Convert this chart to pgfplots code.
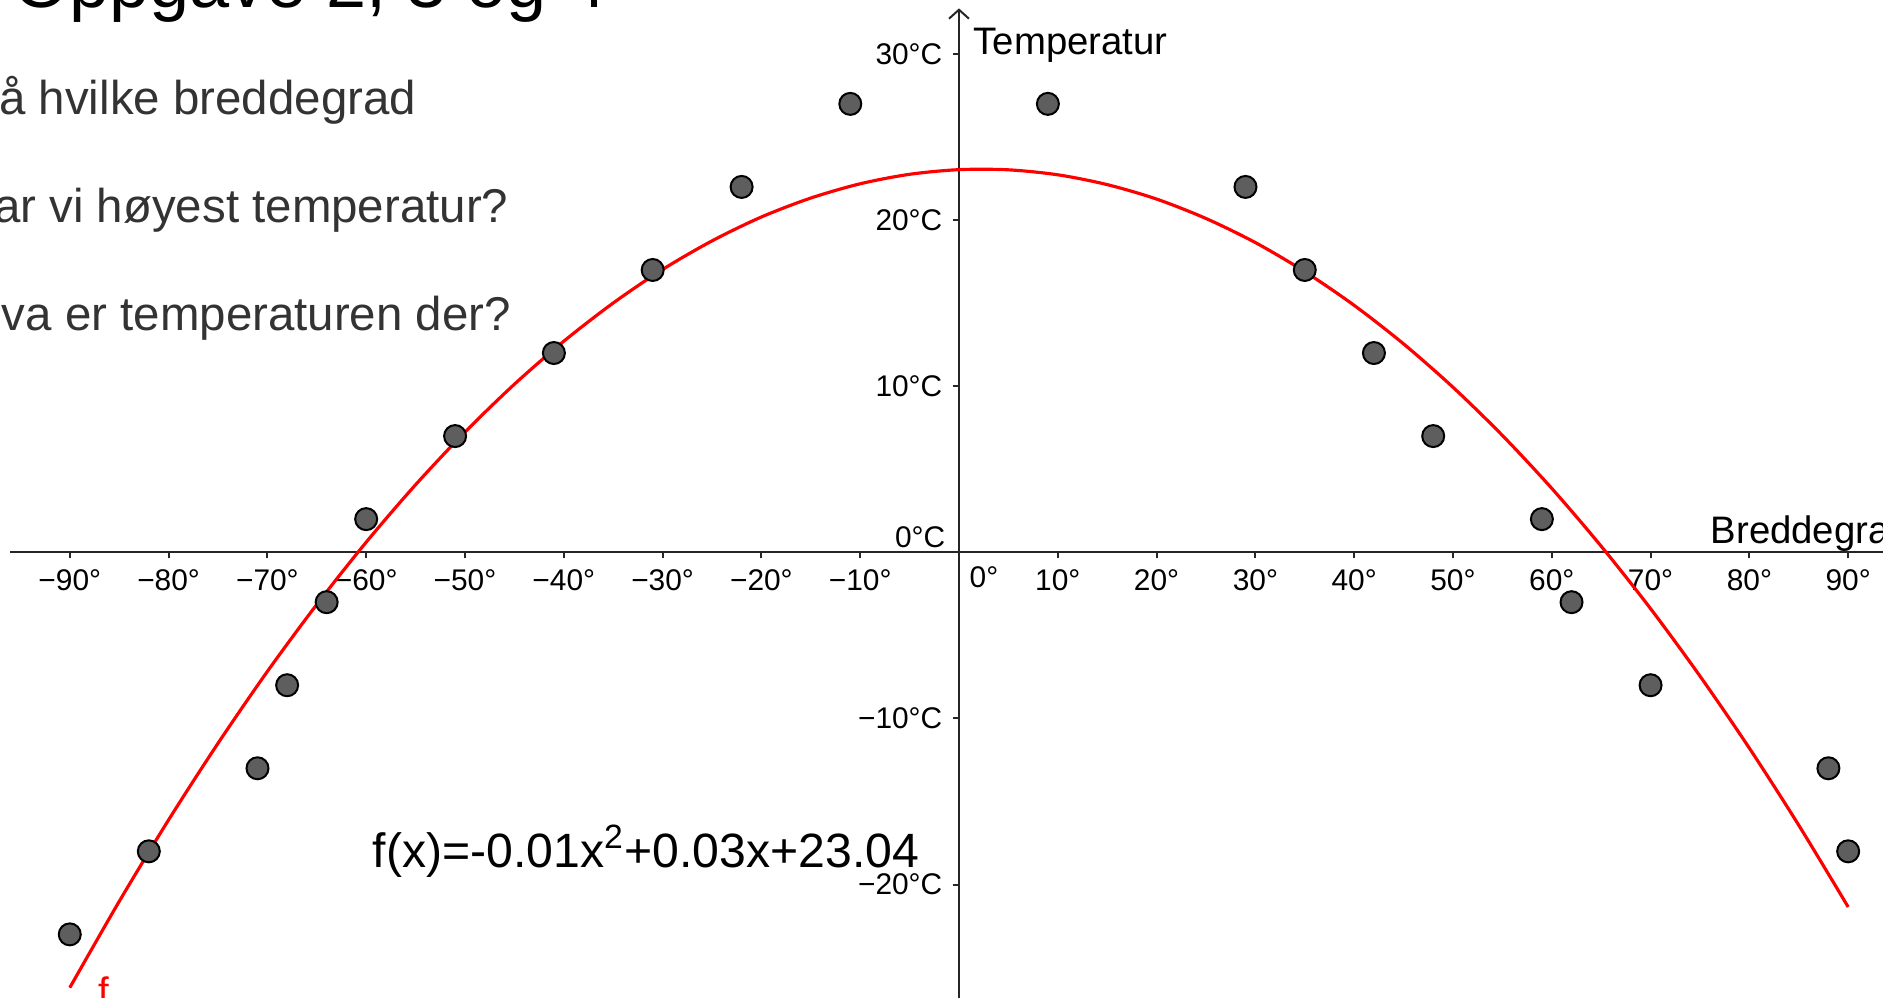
\documentclass[border=0pt]{standalone}
\usepackage{pgfplots}
\pgfplotsset{compat=1.18}
\usepackage{fontspec}
\setmainfont{Liberation Sans}
\usetikzlibrary{arrows.meta}
\definecolor{ptfill}{HTML}{5E5E5E}
\definecolor{qtext}{HTML}{333333}
\definecolor{axcol}{HTML}{262626}

\begin{document}
\begin{tikzpicture}[x=0.1mm,y=0.1mm]
\useasboundingbox (0,0) rectangle (1883,997);
\clip (0,0) rectangle (1883,997);

% slide text (cut off at the edges like the screenshot)
\node[anchor=base west, inner sep=0pt, font=\fontsize{20.5}{24}\selectfont] at (13,989) {Oppgave 2, 3 og 4};
\node[anchor=base west, inner sep=0pt, text=qtext, font=\fontsize{13.5}{15}\selectfont] at (-33,882) {På hvilke breddegrad};
\node[anchor=base west, inner sep=0pt, text=qtext, font=\fontsize{13.5}{15}\selectfont] at (-33,774) {har vi høyest temperatur?};
\node[anchor=base west, inner sep=0pt, text=qtext, font=\fontsize{13.5}{15}\selectfont] at (-33,667) {Hva er temperaturen der?};

\begin{axis}[
    at={(1.05mm,-0.38mm)}, anchor=south west,
    x=0.988mm, y=1.661mm,
    scale only axis,
    xmin=-96, xmax=96,
    ymin=-27, ymax=32.75,
    axis lines=middle,
    axis line style={axcol, line width=0.2mm},
    x axis line style={-},
    y axis line style={-{Straight Barb[length=0.9mm,width=2mm,line width=0.2mm]}},
    tick style={axcol, line width=0.2mm},
    major tick length=0.6mm,
    xtick style={yshift=-0.3mm},
    ytick style={xshift=-0.3mm},
    xtick={-90,-80,-70,-60,-50,-40,-30,-20,-10,10,20,30,40,50,60,70,80,90},
    xticklabels={−90°,−80°,−70°,−60°,−50°,−40°,−30°,−20°,−10°,10°,20°,30°,40°,50°,60°,70°,80°,90°},
    ytick={-20,-10,10,20,30},
    yticklabels={−20°C,−10°C,10°C,20°C,30°C},
    xticklabel style={font=\fontsize{8.5}{9}\selectfont, inner sep=0pt, anchor=north, yshift=-1.4mm},
    yticklabel style={font=\fontsize{8.5}{9}\selectfont, inner sep=0pt, anchor=east, xshift=-1.3mm},
    extra x ticks={0},
    extra x tick labels={0°},
    extra x tick style={major tick length=0pt, xticklabel style={xshift=2.5mm}},
    extra y ticks={0},
    extra y tick labels={0°C},
    extra y tick style={major tick length=0pt, yticklabel style={yshift=1.5mm}},
]

% measured points
\addplot[only marks, mark=*, mark size=1.1mm,
    mark options={fill=ptfill, draw=black, line width=0.2mm}]
coordinates {
    (-90,-23) (-82,-18) (-71,-13) (-68,-8) (-64,-3) (-60,2) (-51,7)
    (-41,12) (-31,17) (-22,22) (-11,27) (9,27) (29,22) (35,17)
    (42,12) (48,7) (59,2) (62,-3) (70,-8) (88,-13) (90,-18)
};

% fitted curve f
\addplot[red, line width=0.9pt, smooth, no marks]
coordinates {
    (-90,-26.21) (-85,-21.02) (-80,-16.11) (-75,-11.50) (-70,-7.17)
    (-65,-3.14) (-60,0.61) (-55,4.07) (-50,7.24) (-45,10.12)
    (-40,12.71) (-35,15.01) (-30,17.03) (-25,18.75) (-20,20.19)
    (-15,21.33) (-10,22.19) (-5,22.76) (0,23.04) (5,23.03)
    (10,22.73) (15,22.14) (20,21.27) (25,20.10) (30,18.65)
    (35,16.90) (40,14.87) (45,12.55) (50,9.94) (55,7.04)
    (60,3.85) (65,0.37) (70,-3.39) (75,-7.45) (80,-11.79)
    (85,-16.43) (90,-21.35)
};
\end{axis}

% axis titles and labels
\node[anchor=base west, inner sep=0pt, font=\fontsize{10.9}{12}\selectfont] at (973,942) {Temperatur};
\node[anchor=base west, inner sep=0pt, font=\fontsize{10.9}{12}\selectfont] at (1710,454) {Breddegrad};
\node[anchor=base west, inner sep=0pt, font=\fontsize{13.7}{15}\selectfont] at (372,130) {f(x)=-0.01x\textsuperscript{2}+0.03x+23.04};
\node[anchor=base west, inner sep=0pt, text=red, font=\fontsize{10.9}{12}\selectfont] at (98,-7) {f};
\end{tikzpicture}
\end{document}
